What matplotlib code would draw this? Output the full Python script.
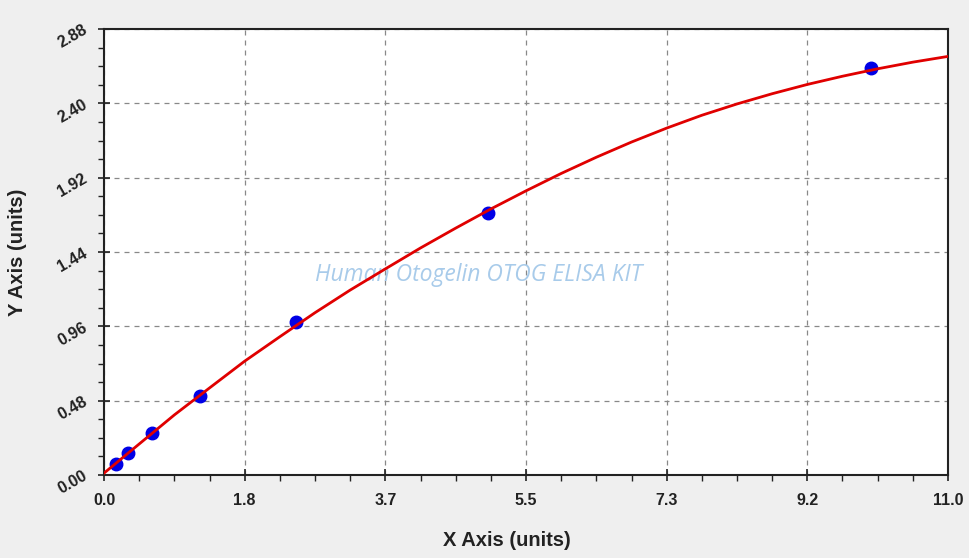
import matplotlib
matplotlib.use("Agg")
import matplotlib.pyplot as plt
from matplotlib.ticker import FixedLocator, MultipleLocator

# ---- data ----
std_x = [0.156, 0.312, 0.625, 1.25, 2.5, 5.0, 10.0]
std_y = [0.069, 0.144, 0.274, 0.511, 0.990, 1.693, 2.630]

curve_x = [0.0, 0.458, 0.917, 1.375, 1.833, 2.292, 2.75, 3.208, 3.667, 4.125, 4.583,
           5.042, 5.5, 5.958, 6.417, 6.875, 7.333, 7.792, 8.25, 8.708, 9.167,
           9.625, 10.083, 10.542, 11.0]
curve_y = [0.012, 0.200, 0.388, 0.562, 0.735, 0.893, 1.048, 1.194, 1.331, 1.466, 1.594,
           1.718, 1.835, 1.947, 2.052, 2.150, 2.240, 2.323, 2.396, 2.462, 2.522,
           2.575, 2.623, 2.666, 2.703]

x_ticks = [0.0, 11/6, 22/6, 33/6, 44/6, 55/6, 11.0]
x_ticklabels = ["0.0", "1.8", "3.7", "5.5", "7.3", "9.2", "11.0"]
y_ticks = [0.00, 0.48, 0.96, 1.44, 1.92, 2.40, 2.88]
y_ticklabels = ["0.00", "0.48", "0.96", "1.44", "1.92", "2.40", "2.88"]

x_label = "X Axis (units)"
y_label = "Y Axis (units)"
watermark = "Human Otogelin OTOG ELISA KIT"

# ---- figure ----
plt.rcParams['font.family'] = ['Liberation Sans', 'DejaVu Sans']
fig = plt.figure(figsize=(9.69, 5.58), dpi=100)
fig.patch.set_facecolor('#efefef')
ax = fig.add_axes([104/969, 1-475/558, (948-104)/969, (475-29)/558])
ax.set_facecolor('white')

ax.plot(std_x, std_y, 'o', color='#0000e6', markersize=9, zorder=3)
ax.plot(curve_x, curve_y, '-', color='#e00000', linewidth=2.0, zorder=4,
        solid_joinstyle='round')

ax.set_xlim(0, 11.0)
ax.set_ylim(0, 2.88)

ax.xaxis.set_major_locator(FixedLocator(x_ticks))
ax.yaxis.set_major_locator(FixedLocator(y_ticks))
ax.xaxis.set_minor_locator(MultipleLocator(11/24))
ax.yaxis.set_minor_locator(MultipleLocator(0.12))
ax.set_xticklabels(x_ticklabels, fontsize=11.5, fontweight='bold', color='#222222')
ax.set_yticklabels(y_ticklabels, fontsize=11.5, fontweight='bold', color='#222222',
                   rotation=30, ha='right', va='center', rotation_mode='anchor')

ax.tick_params(axis='both', which='major', direction='inout', length=8, width=1.2, color='#222222')
ax.tick_params(axis='both', which='minor', direction='out', length=4, width=1.0, color='#222222')
ax.tick_params(axis='x', which='major', pad=9)
ax.tick_params(axis='y', which='major', pad=9)

ax.grid(True, which='major', linestyle=(0, (4, 4)), color='#888888', linewidth=0.9)
for s in ax.spines.values():
    s.set_linewidth(1.5)
    s.set_color('#222222')

ax.set_xlabel(x_label, fontsize=14.5, fontweight='bold', color='#222222')
ax.xaxis.set_label_coords(0.4775, -0.125)
ax.set_ylabel(y_label, fontsize=14.5, fontweight='bold', color='#222222', labelpad=20)

ax.text(0.444, 0.448, watermark, transform=ax.transAxes, ha='center', va='center',
        fontsize=16.5, style='italic', color='#a8cbea', family=['Open Sans', 'DejaVu Sans'],
        zorder=2)

fig.savefig("out.png", dpi=100, facecolor=fig.get_facecolor())
